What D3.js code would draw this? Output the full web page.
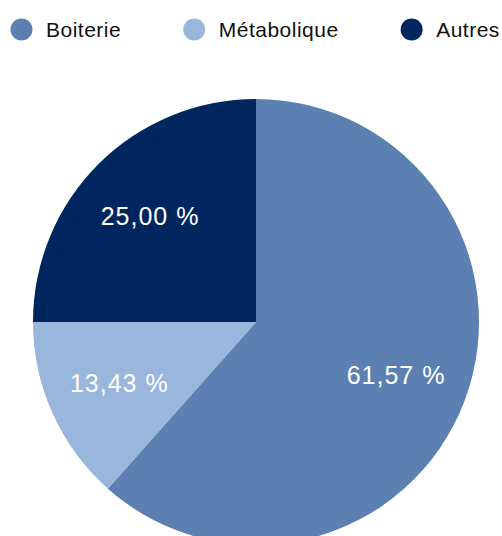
<!doctype html>
<html>
  <head>
    <meta charset="utf-8">
    <title>Répartition</title>
    <script src="https://cdnjs.cloudflare.com/ajax/libs/d3/7.8.5/d3.min.js"></script>
    <style>
      html, body { margin: 0; padding: 0; background: #fff; }
      svg { display: block; font-family: Helvetica, Arial, "Liberation Sans", sans-serif; }
    </style>
  </head>
  <body>
    <svg width="502" height="536"></svg>
    <script>
      // chart data
      var categories = ["Boiterie", "Métabolique", "Autres"];
      var values = [61.57, 13.43, 25.00];
      var colors = ["#5c80b2", "#99b7dc", "#00265f"];

      var width = 502, height = 536;
      var svg = d3.select("svg");

      var color = d3.scaleOrdinal().domain(categories).range(colors);
      var fmt = function(v) { return d3.format(".2f")(v).replace(".", ",") + " %"; };

      var data = categories.map(function(c, i) { return { name: c, value: values[i] }; });

      // pie
      var cx = 256, cy = 322, radius = 223;
      var pie = d3.pie().sort(null).value(function(d) { return d.value; });
      var arc = d3.arc().innerRadius(0).outerRadius(radius);
      var labelArc = d3.arc().innerRadius(radius * 0.672).outerRadius(radius * 0.672);

      var g = svg.append("g").attr("transform", "translate(" + cx + "," + cy + ")");

      g.selectAll("path")
        .data(pie(data))
        .join("path")
        .attr("d", arc)
        .attr("fill", function(d) { return color(d.data.name); });

      g.selectAll("text")
        .data(pie(data))
        .join("text")
        .attr("transform", function(d) { return "translate(" + labelArc.centroid(d) + ")"; })
        .attr("text-anchor", "middle")
        .attr("dy", "0.35em")
        .attr("fill", "#fff")
        .style("font-size", "25px")
        .style("letter-spacing", "1px")
        .text(function(d) { return fmt(d.data.value); });

      // legend
      var legend = svg.append("g").attr("transform", "translate(0,29.5)");
      var x = 10;
      data.forEach(function(d) {
        var item = legend.append("g").attr("transform", "translate(" + x + ",0)");
        item.append("circle")
          .attr("cx", 11.5)
          .attr("cy", 0)
          .attr("r", 11)
          .attr("fill", color(d.name));
        var t = item.append("text")
          .attr("x", 36)
          .attr("dy", "0.35em")
          .attr("fill", "#111")
          .style("font-size", "21px")
          .style("letter-spacing", "0.5px")
          .text(d.name);
        x += 36 + t.node().getComputedTextLength() + 61.5;
      });
    </script>
  </body>
</html>
